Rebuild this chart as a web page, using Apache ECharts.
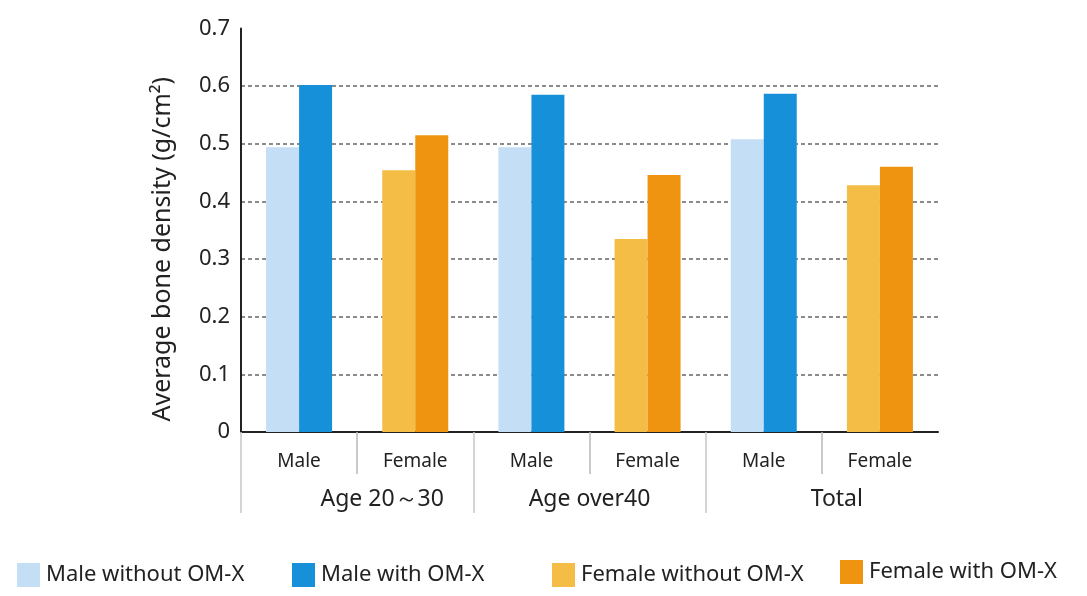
<!DOCTYPE html>
<html>
<head>
<meta charset="utf-8">
<script src="https://cdn.jsdelivr.net/npm/echarts@6/dist/echarts.min.js"></script>
<style>
  html, body { margin: 0; padding: 0; background: #fff; }
  #main { width: 1087px; height: 596px; }
</style>
</head>
<body>
<div id="main"></div>
<script>
var chartDom = document.getElementById('main');
var myChart = echarts.init(chartDom, null, { renderer: 'canvas' });

// 数据
var subCategories = ['Male', 'Female', 'Male', 'Female', 'Male', 'Female'];
var groups = ['Age 20～30', 'Age over40', 'Total'];
var seriesNames = ['Male without OM-X', 'Male with OM-X', 'Female without OM-X', 'Female with OM-X'];
var maleWithout   = [0.494, '-', 0.494, '-', 0.508, '-'];
var maleWith      = [0.602, '-', 0.585, '-', 0.587, '-'];
var femaleWithout = ['-', 0.454, '-', 0.335, '-', 0.428];
var femaleWith    = ['-', 0.515, '-', 0.446, '-', 0.460];
// 分隔线位置（按子类别序号）
var subTicks = [1, 3, 5];
var groupTicks = [0, 2, 4];

var fontFamily = "'Noto Sans', sans-serif";
var textColor = '#222';
var colors = ['#c4def5', '#1690d8', '#f4bd45', '#ee9410'];

function makeLegend(name, left, top) {
    return {
        data: [name],
        left: left,
        top: top,
        icon: 'rect',
        itemWidth: 23,
        itemHeight: 24,
        selectedMode: false,
        textStyle: {
            fontFamily: fontFamily,
            fontSize: 22,
            color: textColor,
            padding: [0, 0, 0, 1]
        }
    };
}

// 只画刻度的辅助轴
function tickAxis(values, len, color) {
    return {
        type: 'value',
        min: 0,
        max: subCategories.length,
        position: 'bottom',
        axisLine: { show: false },
        axisLabel: { show: false },
        splitLine: { show: false },
        axisTick: { show: true, customValues: values, length: len, lineStyle: { color: color, width: 1.5 } }
    };
}

var option = {
    animation: false,
    color: colors,
    grid: { left: 241, right: 149, top: 28.5, bottom: 164, containLabel: false },
    legend: [
        makeLegend(seriesNames[0], 12, 558),
        makeLegend(seriesNames[1], 287, 558),
        makeLegend(seriesNames[2], 547, 558),
        makeLegend(seriesNames[3], 835, 555)
    ],
    xAxis: [
        {
            type: 'category',
            data: subCategories,
            position: 'bottom',
            axisLine: { show: true, lineStyle: { color: '#222', width: 2 } },
            axisTick: { show: false },
            axisLabel: { interval: 0, margin: 20, fontSize: 19, fontFamily: fontFamily, color: textColor },
            splitLine: { show: false }
        },
        {
            type: 'category',
            data: groups,
            position: 'bottom',
            axisLine: { show: false },
            axisTick: { show: false },
            axisLabel: {
                interval: 0,
                hideOverlap: false,
                margin: 56,
                fontSize: 23,
                fontFamily: fontFamily,
                color: textColor,
                formatter: function (value, idx) { return '{g' + idx + '|' + value + '}'; },
                rich: {
                    g0: { fontSize: 23, fontFamily: fontFamily, color: textColor, padding: [0, 0, 0, 50] },
                    g1: { fontSize: 23, fontFamily: fontFamily, color: textColor },
                    g2: { fontSize: 23, fontFamily: fontFamily, color: textColor, padding: [0, 0, 0, 30] }
                }
            },
            splitLine: { show: false }
        },
        tickAxis(subTicks, 42, '#b8b8b8'),
        tickAxis(groupTicks, 81, '#c8c8c8')
    ],
    yAxis: {
        type: 'value',
        min: 0,
        max: 0.7,
        interval: 0.1,
        name: 'Average bone density (g/cm²)',
        nameLocation: 'middle',
        nameGap: 66,
        nameTextStyle: { fontFamily: fontFamily, fontSize: 25, color: textColor, padding: [0, 38, 0, 0] },
        axisLine: { show: true, lineStyle: { color: '#222', width: 2 } },
        axisTick: { show: false },
        axisLabel: {
            margin: 11,
            fontSize: 22,
            fontFamily: fontFamily,
            color: textColor,
            formatter: function (v) { return v === 0 ? '0' : v.toFixed(1); }
        },
        splitLine: {
            show: true,
            lineStyle: {
                // 顶部 0.7 不画网格线
                color: ['rgba(0,0,0,0)', '#666', '#666', '#666', '#666', '#666', '#666', 'rgba(0,0,0,0)'],
                type: [4, 3],
                width: 1.5
            }
        }
    },
    series: [
        { name: seriesNames[0], type: 'bar', stack: 'without', data: maleWithout, barWidth: 33, barGap: '0%' },
        { name: seriesNames[1], type: 'bar', stack: 'with', data: maleWith, barWidth: 33, barGap: '0%' },
        { name: seriesNames[2], type: 'bar', stack: 'without', data: femaleWithout, barWidth: 33, barGap: '0%' },
        { name: seriesNames[3], type: 'bar', stack: 'with', data: femaleWith, barWidth: 33, barGap: '0%' }
    ]
};

myChart.setOption(option);
</script>
</body>
</html>
